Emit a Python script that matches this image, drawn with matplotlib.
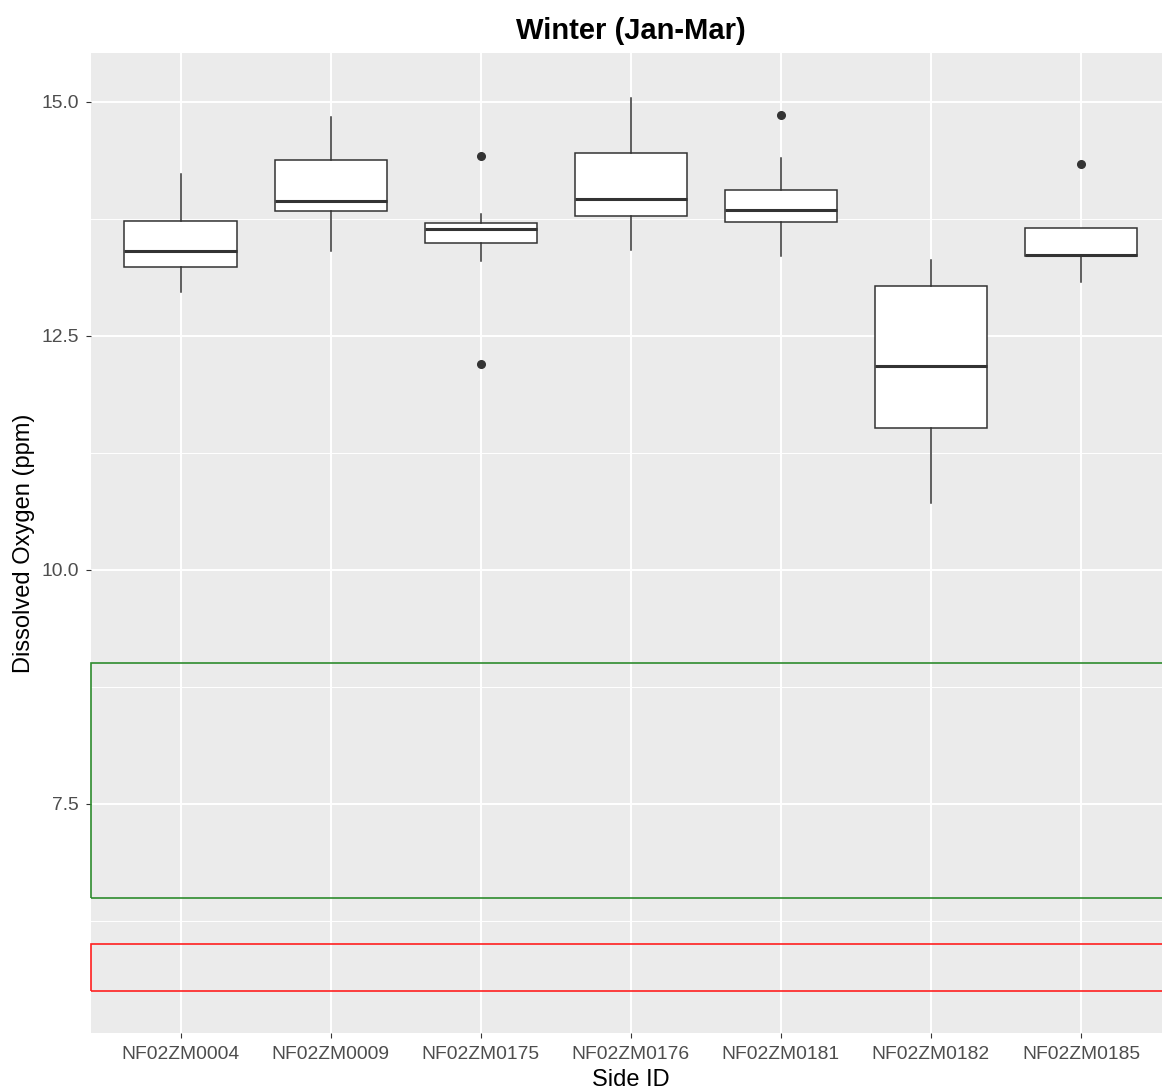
import matplotlib
matplotlib.use("Agg")
import matplotlib.pyplot as plt
from matplotlib.ticker import FixedLocator, FixedFormatter

plt.rcParams['font.family'] = ['Liberation Sans', 'DejaVu Sans']

# ---- data ----
sites = ["NF02ZM0004", "NF02ZM0009", "NF02ZM0175", "NF02ZM0176",
         "NF02ZM0181", "NF02ZM0182", "NF02ZM0185"]
whisker_low = [12.97, 13.40, 13.30, 13.42, 13.35, 10.71, 13.07]
q1 = [13.23, 13.83, 13.49, 13.78, 13.71, 11.51, 13.35]
median = [13.40, 13.94, 13.64, 13.96, 13.84, 12.18, 13.36]
q3 = [13.73, 14.38, 13.70, 14.45, 14.06, 13.03, 13.65]
whisker_high = [14.23, 14.84, 13.80, 15.04, 14.40, 13.31, 13.65]
outliers = [[], [], [14.42, 12.20], [], [14.86], [], [14.33]]

# threshold bands (ymin, ymax)
green_band = (6.5, 9.0)
red_band = (5.5, 6.0)

y_ticks = [7.5, 10.0, 12.5, 15.0]
y_minor = [6.25, 8.75, 11.25, 13.75]
title = "Winter (Jan-Mar)"
xlabel = "Side ID"
ylabel = "Dissolved Oxygen (ppm)"

# ---- figure ----
W, H = 1162, 1092
fig = plt.figure(figsize=(W / 100, H / 100), dpi=100)
left_px, right_px, top_px, bot_px = 90.7, 1171, 53, 1033.3
ax = fig.add_axes([left_px / W, 1 - bot_px / H,
                   (right_px - left_px) / W, (bot_px - top_px) / H])
ax.set_facecolor("#EBEBEB")
for s in ax.spines.values():
    s.set_visible(False)

positions = list(range(1, len(sites) + 1))
stats = []
for i in range(len(sites)):
    stats.append(dict(med=median[i], q1=q1[i], q3=q3[i],
                      whislo=whisker_low[i], whishi=whisker_high[i],
                      fliers=outliers[i]))

dark = "#333333"
ax.bxp(stats, positions=positions, widths=0.75, patch_artist=True,
       showcaps=False,
       boxprops=dict(facecolor="white", edgecolor=dark, linewidth=1.1),
       medianprops=dict(color=dark, linewidth=2.2, solid_capstyle="butt"),
       whiskerprops=dict(color=dark, linewidth=1.1),
       flierprops=dict(marker="o", markerfacecolor=dark, markeredgecolor=dark,
                       markersize=5.5, linestyle="none"),
       zorder=3)

# bands
gb = ax.axhspan(green_band[0], green_band[1], xmin=0, xmax=1, facecolor="none",
                edgecolor="#2E8B2E", linewidth=1.2, zorder=2)
rb = ax.axhspan(red_band[0], red_band[1], xmin=0, xmax=1, facecolor="none",
                edgecolor="#FF2020", linewidth=1.2, zorder=2)
gb.set_clip_on(False)
rb.set_clip_on(False)

ax.set_xlim(0.4, len(sites) + 0.6)
ax.set_ylim(5.05, 15.52)

ax.yaxis.set_major_locator(FixedLocator(y_ticks))
ax.yaxis.set_major_formatter(FixedFormatter([f"{v:.1f}" for v in y_ticks]))
ax.yaxis.set_minor_locator(FixedLocator(y_minor))
ax.set_xticks(positions)
ax.set_xticklabels(sites)

ax.grid(which="major", color="white", linewidth=1.4, zorder=0)
ax.grid(which="minor", axis="y", color="white", linewidth=0.7, zorder=0)
ax.set_axisbelow(True)

ax.tick_params(axis="both", which="major", length=3.8, width=0.8,
               color="#333333", labelcolor="#4D4D4D", labelsize=13.9)
ax.tick_params(axis="x", which="major", pad=5.5)
ax.tick_params(axis="y", which="major", pad=4.5)
ax.tick_params(axis="y", which="minor", length=0)

ax.set_xlabel(xlabel, fontsize=17, color="black", labelpad=4)
ax.set_ylabel(ylabel, fontsize=17, color="black", labelpad=5)

fig.text((left_px + right_px) / 2 / W, 1 - 31 / H, title, ha="center",
         va="center", fontsize=21, fontweight="bold")

fig.savefig("out.png", dpi=100)
